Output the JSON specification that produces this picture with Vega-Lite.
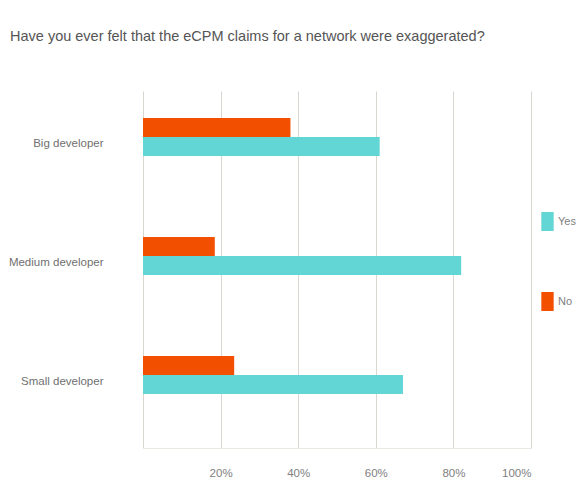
{
  "$schema": "https://vega.github.io/schema/vega-lite/v6.json",
  "width": 388,
  "height": 357,
  "autosize": "none",
  "padding": {"left": 143, "top": 91, "right": 45, "bottom": 47},
  "background": "white",
  "title": {
    "text": "Have you ever felt that the eCPM claims for a network were exaggerated?",
    "anchor": "start",
    "frame": "group",
    "dx": -133,
    "offset": 47,
    "fontSize": 14.5,
    "fontWeight": "normal",
    "font": "Liberation Sans",
    "color": "#555555"
  },
  "data": {
    "values": [
      {"group": "Big developer", "answer": "Yes", "pct": 61},
      {"group": "Big developer", "answer": "No", "pct": 38},
      {"group": "Medium developer", "answer": "Yes", "pct": 82},
      {"group": "Medium developer", "answer": "No", "pct": 18.5},
      {"group": "Small developer", "answer": "Yes", "pct": 67},
      {"group": "Small developer", "answer": "No", "pct": 23.5}
    ]
  },
  "mark": {"type": "bar"},
  "encoding": {
    "y": {
      "field": "group",
      "type": "nominal",
      "sort": ["Big developer", "Medium developer", "Small developer"],
      "scale": {"paddingInner": 0, "paddingOuter": 0},
      "axis": {
        "title": null,
        "ticks": false,
        "domain": false,
        "labelPadding": 40,
        "labelOffset": -7,
        "labelFontSize": 11.5,
        "labelColor": "#707070",
        "labelFont": "Liberation Sans"
      }
    },
    "x": {
      "field": "pct",
      "type": "quantitative",
      "scale": {"domain": [0, 100]},
      "axis": {
        "title": null,
        "values": [0, 20, 40, 60, 80, 100],
        "labelExpr": "datum.value == 0 ? '' : datum.value + '%'",
        "grid": true,
        "gridColor": "#d9d5cf",
        "ticks": false,
        "domain": true,
        "domainColor": "#ece8e3",
        "labelPadding": 19,
        "labelFontSize": 11.5,
        "labelColor": "#808080",
        "labelFont": "Liberation Sans"
      }
    },
    "yOffset": {
      "field": "answer",
      "sort": ["No", "Yes"],
      "scale": {"range": [27, 65], "paddingInner": 0, "paddingOuter": 0}
    },
    "color": {
      "field": "answer",
      "type": "nominal",
      "scale": {"domain": ["Yes", "No"], "range": ["#62d5d5", "#f25000"]},
      "legend": {
        "title": null,
        "orient": "none",
        "legendX": 395,
        "legendY": 121,
        "symbolType": "M-0.65,-1H0.65V1H-0.65Z",
        "symbolSize": 361,
        "symbolStrokeWidth": 0,
        "rowPadding": 61,
        "labelFontSize": 11,
        "labelColor": "#808080",
        "labelOffset": 1,
        "labelFont": "Liberation Sans"
      }
    }
  },
  "config": {"view": {"stroke": null}}
}
